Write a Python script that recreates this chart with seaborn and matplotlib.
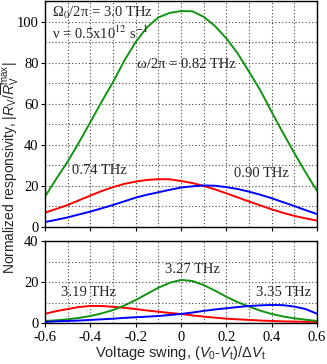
import numpy as np
import pandas as pd
import matplotlib
matplotlib.use("Agg")
import matplotlib.pyplot as plt
import seaborn as sns

# voltage swing grid (V0-Vt)/dVt
swing = [-0.60, -0.55, -0.50, -0.45, -0.40, -0.35, -0.30, -0.25, -0.20, -0.15, -0.10, -0.05,
         0.00, 0.05, 0.10, 0.15, 0.20, 0.25, 0.30, 0.35, 0.40, 0.45, 0.50, 0.55, 0.60]

# top panel: 0.74, 0.82, 0.90 THz
resp_074 = [7.0, 8.8, 10.7, 13.0, 15.3, 17.5, 19.4, 21.0, 22.1, 22.9, 23.3, 23.2,
            22.4, 21.4, 20.0, 18.3, 16.4, 14.4, 12.4, 10.5, 8.6, 6.9, 5.4, 4.2, 3.1]
resp_082 = [14.8, 23.5, 31.8, 41.2, 51.0, 61.0, 70.5, 81.0, 90.0, 97.2, 102.0, 104.2,
            105.1, 105.0, 102.3, 97.8, 91.8, 84.5, 75.6, 66.5, 56.0, 45.8, 36.0, 26.5, 17.6]
resp_090 = [2.4, 3.5, 4.7, 6.1, 7.5, 9.1, 10.7, 12.5, 14.3, 15.7, 16.9, 18.1,
            19.2, 19.8, 20.2, 20.1, 19.4, 18.5, 17.2, 15.7, 14.0, 12.1, 10.2, 8.2, 6.3]

# bottom panel: 3.19, 3.27, 3.35 THz
resp_319 = [4.5, 5.8, 6.8, 7.8, 8.3, 8.3, 7.9, 7.4, 6.8, 6.1, 5.5, 4.9,
            4.4, 3.7, 3.1, 2.6, 2.1, 1.8, 1.5, 1.2, 1.0, 0.8, 0.7, 0.6, 0.5]
resp_327 = [1.0, 1.3, 1.8, 2.5, 3.4, 4.7, 6.3, 8.5, 11.2, 14.2, 17.2, 19.6,
            21.0, 20.5, 18.5, 15.8, 12.8, 10.2, 8.0, 6.0, 4.4, 3.2, 2.3, 1.6, 1.0]
resp_335 = [0.5, 0.8, 1.0, 1.2, 1.5, 1.8, 2.1, 2.5, 2.8, 3.1, 3.4, 3.9,
            4.4, 5.1, 5.9, 6.6, 7.2, 7.8, 8.3, 8.6, 8.8, 8.7, 8.0, 6.8, 4.5]

xtick_vals = [-0.6, -0.4, -0.2, 0, 0.2, 0.4, 0.6]
xtick_labels = ["-0.6", "-0.4", "-0.2", "0", "0.2", "0.4", "0.6"]

sns.set_theme(style="ticks")
plt.rcParams["font.family"] = ["Liberation Serif", "DejaVu Serif"]
plt.rcParams["axes.unicode_minus"] = False
plt.rcParams["mathtext.fontset"] = "custom"
plt.rcParams["mathtext.rm"] = "Liberation Sans"
plt.rcParams["mathtext.it"] = "Liberation Sans:italic"
plt.rcParams["mathtext.bf"] = "Liberation Sans:bold"

pal = {"red": "#ff0000", "green": "#119411", "blue": "#0000ff"}

top = pd.DataFrame({"x": swing * 3,
                    "y": resp_074 + resp_082 + resp_090,
                    "c": ["red"] * 25 + ["green"] * 25 + ["blue"] * 25})
bot = pd.DataFrame({"x": swing * 3,
                    "y": resp_319 + resp_327 + resp_335,
                    "c": ["red"] * 25 + ["green"] * 25 + ["blue"] * 25})

fig = plt.figure(figsize=(3.27, 3.64), dpi=100)
ax1 = fig.add_axes([45 / 327, 1 - 227 / 364, 272 / 327, 226 / 364])
ax2 = fig.add_axes([45 / 327, 1 - 323 / 364, 272 / 327, 82 / 364])

sns.lineplot(data=top, x="x", y="y", hue="c", palette=pal, ax=ax1, lw=1.4, legend=False)
sns.lineplot(data=bot, x="x", y="y", hue="c", palette=pal, ax=ax2, lw=1.4, legend=False)

for ax, ymax, yt in [(ax1, 110, [0, 20, 40, 60, 80, 100]), (ax2, 40, [0, 20, 40])]:
    ax.set_xlim(-0.6, 0.6)
    ax.set_ylim(0, ymax)
    ax.set_xticks(xtick_vals)
    ax.set_xticks(np.arange(-0.6, 0.61, 0.1), minor=True)
    ax.set_yticks(yt)
    ax.set_yticks(np.arange(0, ymax + 1, 10), minor=True)
    ax.grid(which="both", linestyle=(0, (1, 2)), color="#444444", linewidth=0.8)
    ax.tick_params(which="major", direction="out", length=3, width=0.8, labelsize=10.5, pad=1.5,
                   colors="black")
    ax.tick_params(axis="x", which="major", pad=2.5)
    ax.tick_params(which="minor", length=0)
    for s in ax.spines.values():
        s.set_linewidth(1.0)
        s.set_color("black")
    ax.set_xlabel("")
    ax.set_ylabel("")

ax1.set_xticklabels([])
ax2.set_xticklabels(xtick_labels)

ax2.set_xlabel(r"Voltage swing, ($V_0$-$V_{\rm t}$)/$\Delta V_{\rm t}$",
               family="Liberation Sans", fontsize=10.5, labelpad=0)
fig.text(0.03, 0.54, r"Normalized responsivity, $|R_{\rm V}/\overline{R}_{\rm V}^{\rm max}|$",
         family="Liberation Sans", fontsize=10, rotation=90, ha="center", va="center")

ann = dict(fontsize=10.5, math_fontfamily="stix", va="center", ha="left")
ax1.text(-0.57, 104.4, r"Ω$_0$/2π = 3.0 THz", **ann)
ax1.text(-0.57, 94.2, r"ν = 0.5x10$^{12}$ s$^{-1}$", **ann)
ax1.text(-0.195, 79.3, "ω/2π = 0.82 THz", **ann)
ax1.text(-0.48, 27.3, "0.74 THz", **ann)
ax1.text(0.235, 25.8, "0.90 THz", **ann)
ax2.text(-0.07, 26.3, "3.27 THz", **ann)
ax2.text(-0.53, 15.1, "3.19 THz", **ann)
ax2.text(0.33, 15.1, "3.35 THz", **ann)

fig.savefig("out.png", dpi=100)
